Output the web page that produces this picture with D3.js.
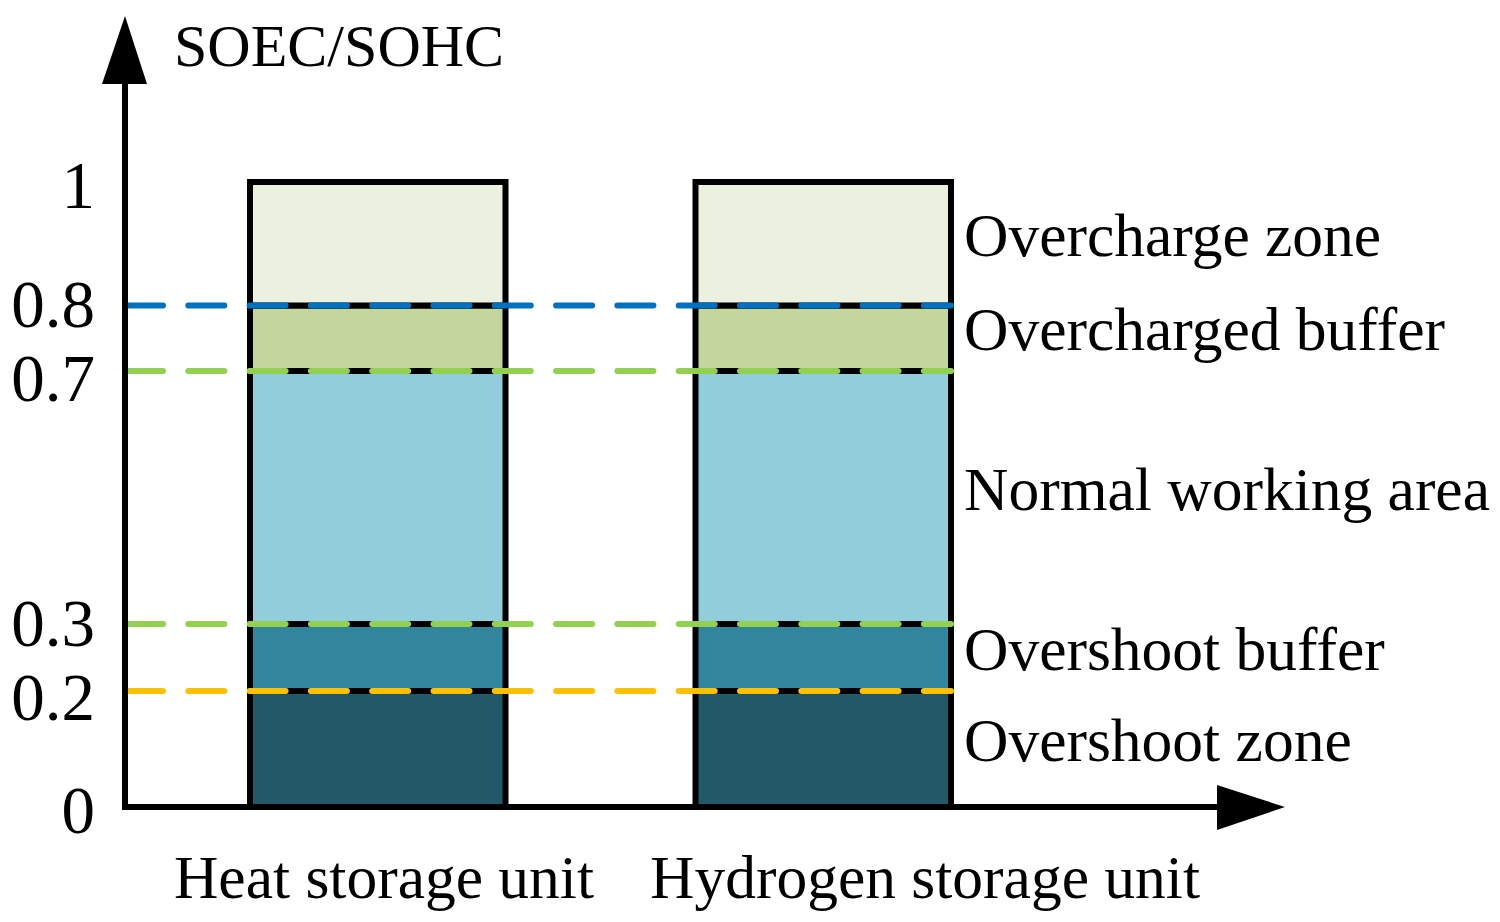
<!DOCTYPE html>
<html>
<head>
<meta charset="utf-8">
<script src="https://cdn.jsdelivr.net/npm/d3@7"></script>
<style>
  html, body { margin: 0; padding: 0; background: #fff; }
  svg { display: block; }
  text { font-family: "Liberation Serif", "Times New Roman", serif; fill: #000; }
</style>
</head>
<body>
<svg id="chart" width="1500" height="922"></svg>
<script>
// ---- data ----
const categories = ["Heat storage unit", "Hydrogen storage unit"];
const zoneNames = ["Overshoot zone", "Overshoot buffer", "Normal working area", "Overcharged buffer", "Overcharge zone"];
const zoneBounds = [0, 0.2, 0.3, 0.7, 0.8, 1];
const thresholdValues = [0.8, 0.7, 0.3, 0.2];
const tickValues = [0, 0.2, 0.3, 0.7, 0.8, 1];
const tickLabels = ["0", "0.2", "0.3", "0.7", "0.8", "1"];
const yAxisTitle = "SOEC/SOHC";

// ---- styles ----
const zoneColors = ["#215968", "#31859C", "#92CDDC", "#C3D69B", "#EBF1DE"];
const thresholdColors = ["#0070C0", "#92D050", "#92D050", "#FFC000"];

const svg = d3.select("#chart");
const axisX = 125;          // y-axis position
const baseY = 807;          // x-axis position

// schematic (non-proportional) value axis: piecewise-linear d3 scale
const yRangeStops = [baseY, 691, 624, 371, 305.5, 182];
const y = d3.scaleLinear().domain(zoneBounds).range(yRangeStops);
const x = d3.scaleBand().domain(categories).range([250, 951]).paddingInner(0.4265).paddingOuter(0);
const xLabel = d3.scalePoint().domain(categories).range([384, 925]).padding(0);

// zones as stacked segments
const zones = zoneNames.map((n, i) => ({ name: n, lo: zoneBounds[i], hi: zoneBounds[i + 1], color: zoneColors[i] }));

// bars
categories.forEach(cat => {
  svg.append("g").selectAll("rect").data(zones).join("rect")
    .attr("x", x(cat))
    .attr("width", x.bandwidth())
    .attr("y", d => y(d.hi))
    .attr("height", d => y(d.lo) - y(d.hi))
    .attr("fill", d => d.color)
    .attr("stroke", "#000")
    .attr("stroke-width", 6);
});

// dashed threshold lines
const xEnd = x(categories[categories.length - 1]) + x.bandwidth() + 3;
svg.append("g").selectAll("line").data(thresholdValues).join("line")
  .attr("x1", axisX + 2)
  .attr("x2", xEnd - 3)
  .attr("y1", d => y(d))
  .attr("y2", d => y(d))
  .attr("stroke", (d, i) => thresholdColors[i])
  .attr("stroke-width", 6)
  .attr("stroke-linecap", "round")
  .attr("stroke-dasharray", "36,25.3");

// x axis line + arrow
svg.append("line")
  .attr("x1", axisX - 3).attr("x2", 1220)
  .attr("y1", baseY).attr("y2", baseY)
  .attr("stroke", "#000").attr("stroke-width", 6);
svg.append("path")
  .attr("d", d3.line()([[1217, baseY - 22], [1285, baseY], [1217, baseY + 23]]) + "Z")
  .attr("fill", "#000");

// y axis line + arrow
svg.append("line")
  .attr("x1", axisX).attr("x2", axisX)
  .attr("y1", baseY + 3).attr("y2", 80)
  .attr("stroke", "#000").attr("stroke-width", 6);
svg.append("path")
  .attr("d", d3.line()([[axisX - 23, 84], [axisX, 16], [axisX + 22, 84]]) + "Z")
  .attr("fill", "#000");

// y tick labels: positions from the scale, then spread apart where they would collide
const tickFont = 67;
const minGap = 74;
const tickPos = tickValues.map((v, i) => ({ label: tickLabels[i], cy: y(v) + 3 }))
  .sort((a, b) => a.cy - b.cy);
for (let iter = 0; iter < 20; iter++) {
  for (let i = 1; i < tickPos.length; i++) {
    const gap = tickPos[i].cy - tickPos[i - 1].cy;
    if (gap < minGap) {
      const push = (minGap - gap) / 2;
      tickPos[i - 1].cy -= push;
      tickPos[i].cy += push;
    }
  }
}
svg.append("g").selectAll("text").data(tickPos).join("text")
  .attr("x", axisX - 30)
  .attr("y", d => d.cy)
  .attr("dy", "0.34em")
  .attr("text-anchor", "end")
  .attr("font-size", tickFont)
  .text(d => d.label);

// y axis title
svg.append("text")
  .attr("x", 174).attr("y", 66)
  .attr("font-size", 60)
  .text(yAxisTitle);

// zone labels on the right
svg.append("g").selectAll("text").data(zones).join("text")
  .attr("x", 964)
  .attr("y", d => (y(d.lo) + y(d.hi)) / 2 + 12)
  .attr("font-size", 61.5)
  .text(d => d.name);

// category labels
svg.append("g").selectAll("text").data(categories).join("text")
  .attr("x", d => xLabel(d))
  .attr("y", 898)
  .attr("text-anchor", "middle")
  .attr("font-size", 61.5)
  .text(d => d);
</script>
</body>
</html>
